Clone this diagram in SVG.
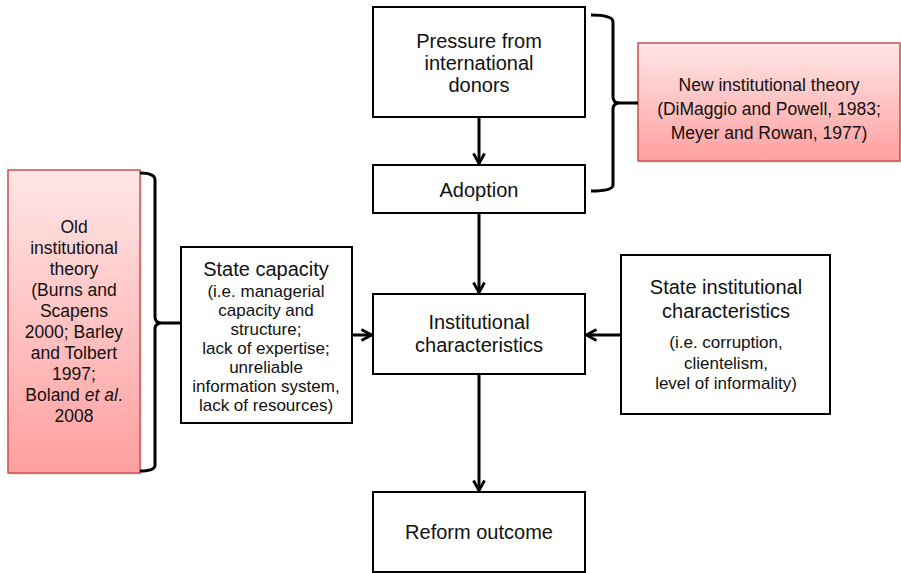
<svg xmlns="http://www.w3.org/2000/svg" width="901" height="573" viewBox="0 0 901 573">
<defs>
<linearGradient id="pink" x1="0" y1="0" x2="0" y2="1">
<stop offset="0" stop-color="#ffe6e6"/>
<stop offset="1" stop-color="#ffa0a0"/>
</linearGradient>
<marker id="arr" viewBox="0 0 14 14" refX="12.5" refY="7" markerWidth="14" markerHeight="14" markerUnits="userSpaceOnUse" orient="auto">
<polyline points="2,1.5 12,7 2,12.5" fill="none" stroke="#000" stroke-width="2.8"/>
</marker>
</defs>
<style>
.box{fill:#fff;stroke:#000;stroke-width:2}
.red{fill:url(#pink);stroke:#c9504d;stroke-width:1.5}
.t{font-family:"Liberation Sans",Arial,sans-serif;fill:#111;text-anchor:middle}
.l{font-size:20px}
.s{font-size:17px}
.r{font-size:17.5px}
.c{stroke:#000;stroke-width:3;fill:none}
.br{stroke:#000;stroke-width:3;fill:none}
</style>
<g id="pressure">
<rect class="box" x="373" y="7" width="212" height="110"/>
<text class="t l" x="479" y="48">Pressure from</text>
<text class="t l" x="479" y="70">international</text>
<text class="t l" x="479" y="92">donors</text>
</g>
<g id="adoption">
<rect class="box" x="373" y="165" width="212" height="48"/>
<text class="t l" x="479" y="197">Adoption</text>
</g>
<g id="new-theory">
<rect x="640" y="45" width="262" height="118" fill="#ccc" opacity="0.5"/>
<rect class="red" x="638" y="43" width="262" height="118"/>
<text class="t r" x="769" y="91">New institutional theory</text>
<text class="t r" x="769" y="115">(DiMaggio and Powell, 1983;</text>
<text class="t r" x="769" y="139">Meyer and Rowan, 1977)</text>
</g>
<g id="old-theory">
<rect x="10" y="172" width="132" height="303" fill="#ccc" opacity="0.5"/>
<rect class="red" x="8" y="170" width="132" height="303"/>
<text class="t r" x="74" y="233">Old</text>
<text class="t r" x="74" y="254">institutional</text>
<text class="t r" x="74" y="275">theory</text>
<text class="t r" x="74" y="296">(Burns and</text>
<text class="t r" x="74" y="317">Scapens</text>
<text class="t r" x="74" y="338">2000; Barley</text>
<text class="t r" x="74" y="359">and Tolbert</text>
<text class="t r" x="74" y="380">1997;</text>
<text class="t r" x="74" y="401">Boland <tspan font-style="italic">et al</tspan>.</text>
<text class="t r" x="74" y="422">2008</text>
</g>
<g id="state-capacity">
<rect class="box" x="181" y="247" width="171" height="176"/>
<text class="t l" x="266" y="276">State capacity</text>
<text class="t s" x="266" y="297">(i.e. managerial</text>
<text class="t s" x="266" y="316">capacity and</text>
<text class="t s" x="266" y="335">structure;</text>
<text class="t s" x="266" y="354">lack of expertise;</text>
<text class="t s" x="266" y="373">unreliable</text>
<text class="t s" x="266" y="392">information system,</text>
<text class="t s" x="266" y="411">lack of resources)</text>
</g>
<g id="institutional">
<rect class="box" x="373" y="294" width="212" height="80"/>
<text class="t l" x="479" y="329">Institutional</text>
<text class="t l" x="479" y="352">characteristics</text>
</g>
<g id="state-institutional">
<rect class="box" x="621" y="255" width="209" height="159"/>
<text class="t l" x="726" y="294">State institutional</text>
<text class="t l" x="726" y="318">characteristics</text>
<text class="t s" x="726" y="348">(i.e. corruption,</text>
<text class="t s" x="726" y="369">clientelism,</text>
<text class="t s" x="726" y="389">level of informality)</text>
</g>
<g id="reform">
<rect class="box" x="373" y="492" width="212" height="80"/>
<text class="t l" x="479" y="539">Reform outcome</text>
</g>
<g id="connectors">
<line class="c" x1="479" y1="117" x2="479" y2="164" marker-end="url(#arr)"/>
<line class="c" x1="479" y1="213" x2="479" y2="293" marker-end="url(#arr)"/>
<line class="c" x1="352" y1="335" x2="372" y2="335" marker-end="url(#arr)"/>
<line class="c" x1="621" y1="335" x2="586" y2="335" marker-end="url(#arr)"/>
<line class="c" x1="479" y1="374" x2="479" y2="491" marker-end="url(#arr)"/>
<path class="br" d="M591,15 Q613,15 613,22 L613,97 Q613,103 620,103 L638,103 M620,103 Q613,103 613,109 L613,185 Q613,191 591,191"/>
<path class="br" d="M140,173 Q155,173 155,180 L155,317 Q155,323 162,323 L181,323 M162,323 Q155,323 155,329 L155,465 Q155,471 140,471"/>
</g>
</svg>
